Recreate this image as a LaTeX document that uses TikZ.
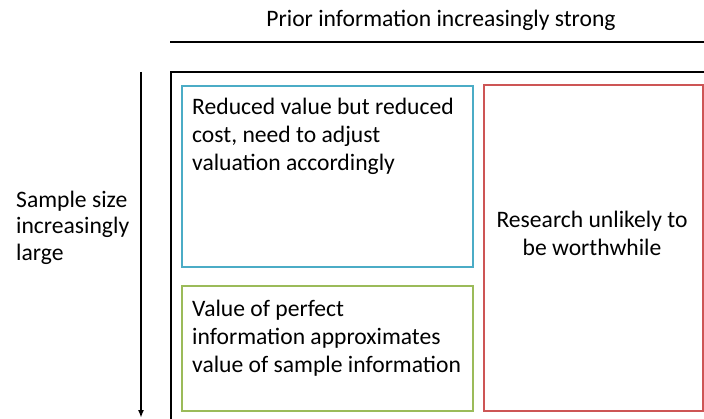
\documentclass[tikz,border=0pt]{standalone}
\usepackage{fontspec}
\setmainfont{Carlito}
\usetikzlibrary{arrows.meta}
\definecolor{cblue}{RGB}{75,172,198}
\definecolor{cgreen}{RGB}{155,187,89}
\definecolor{cred}{RGB}{205,85,85}
\begin{document}
\begin{tikzpicture}[x=1pt,y=-1pt,
  txt/.style={font=\fontsize{23.6}{28.3}\selectfont, inner sep=0pt, align=left, anchor=north west},
  cbox/.style={line width=2pt, inner sep=0pt}]
\useasboundingbox (0,0) rectangle (704,419);
\clip (0,0) rectangle (704,419);
% title and top rule
\node[font=\fontsize{23.6}{28}\selectfont, inner sep=0pt, anchor=base] (title) at (441,27) {Prior information increasingly strong};
\coordinate (r1) at (170,42);
\coordinate (r2) at (704,42);
\draw[line width=1.8pt] (r1) -- (r2);
% outer frame (extends beyond the picture)
\draw[line width=2.4pt] (171,430) -- (171,72) -- (715,72);
% arrow
\coordinate (a1) at (141,72);
\coordinate (a2) at (141,418);
\draw[line width=1.6pt, -{Latex[length=8pt,width=6pt]}] (a1) -- (a2);
\node[txt, font=\fontsize{23.6}{26.5}\selectfont] (side) at (16,190.5) {Sample size\\increasingly\\large};
% boxes
\node[cbox, draw=cblue, minimum width=291pt, minimum height=181pt, anchor=north west] (blue) at (181,85) {};
\node[cbox, draw=cgreen, minimum width=291pt, minimum height=125pt, anchor=north west] (green) at (181,285) {};
\node[cbox, draw=cred, minimum width=219pt, minimum height=326pt, anchor=north west] (red) at (483,84) {};
% texts
\node[txt] (bt) at (192,97.5) {Reduced value but reduced\\cost, need to adjust\\valuation accordingly};
\node[txt] (gt) at (192,299.5) {Value of perfect\\information approximates\\value of sample information};
\node[txt, align=center, anchor=north] (rt) at (592,210.5) {Research unlikely to\\be worthwhile};
\end{tikzpicture}
\end{document}
